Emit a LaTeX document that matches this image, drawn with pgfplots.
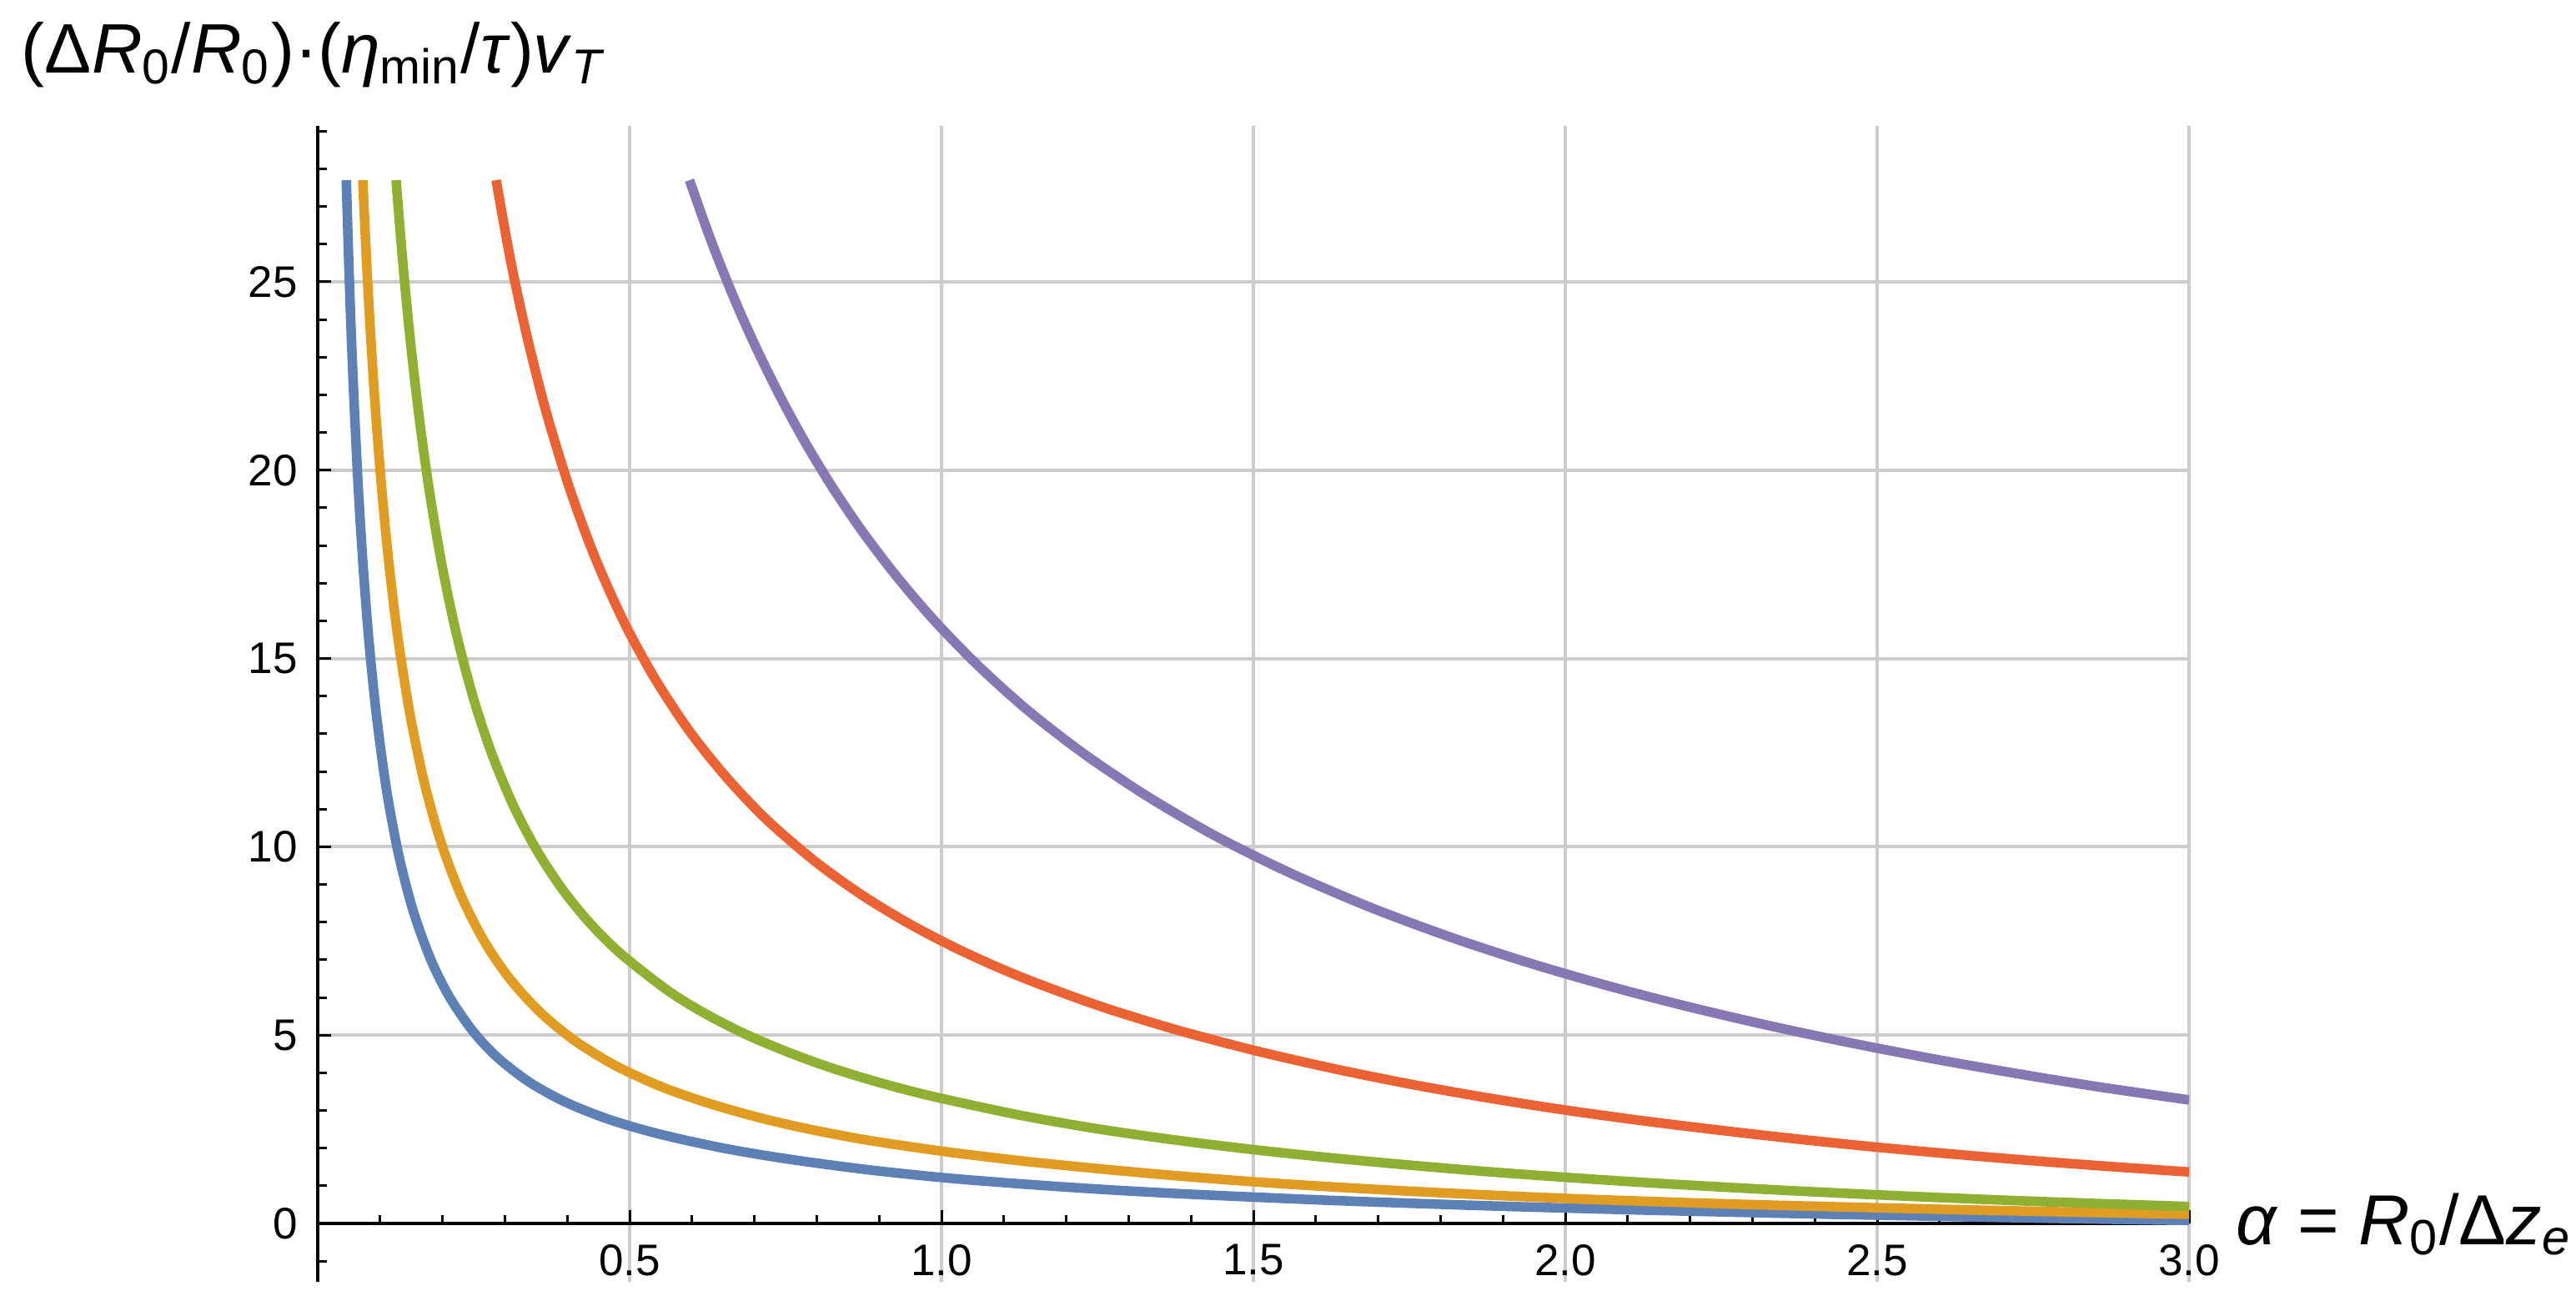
\documentclass[border=0pt]{standalone}
\usepackage{fontspec}
\setmainfont{Liberation Sans}
\usepackage{pgfplots}
\pgfplotsset{compat=1.18}
\definecolor{mblue}{HTML}{5E81B5}
\definecolor{morange}{HTML}{E19C24}
\definecolor{mgreen}{HTML}{8FB032}
\definecolor{mred}{HTML}{EB6235}
\definecolor{mpurple}{HTML}{8778B3}
\definecolor{mgrid}{HTML}{CCCCCC}
\begin{document}
\begin{tikzpicture}
\useasboundingbox (-76.2pt,-3.2pt) rectangle (541.6pt,307.4pt);
\begin{axis}[
  at={(0pt,0pt)}, anchor=south west,
  scale only axis, width=448.8pt, height=277.2pt,
  xmin=0, xmax=3, ymin=-1.55, ymax=29.14,
  axis x line=middle, axis y line=left,
  axis line style={-, line width=0.7pt, black},
  xtick={0.5,1,1.5,2,2.5,3}, xticklabels={0.5,1.0,1.5,2.0,2.5,3.0},
  ytick={0,5,10,15,20,25}, yticklabels={0,5,10,15,20,25},
  minor xtick={0.1,0.2,0.3,0.4,0.6,0.7,0.8,0.9,1.1,1.2,1.3,1.4,1.6,1.7,1.8,1.9,2.1,2.2,2.3,2.4,2.6,2.7,2.8,2.9},
  minor ytick={-1,1,2,3,4,6,7,8,9,11,12,13,14,16,17,18,19,21,22,23,24,26,27,28,29},
  hide obscured x ticks=false, hide obscured y ticks=false,
  tick align=inside,
  major tick length=3.2pt, minor tick length=2.1pt,
  every tick/.style={black, line width=0.6pt},
  grid=major, major grid style={mgrid, line width=0.8pt},
  /pgf/number format/assume math mode=true,
  xticklabel style={font=\fontsize{10.6}{12}\selectfont, yshift=-1.5pt},
  yticklabel style={font=\fontsize{10.6}{12}\selectfont, xshift=-1.3pt},
  every axis plot/.append style={line width=2.3pt, smooth, no markers, line join=round},
]
\addplot[mblue] coordinates {
(0.0458,27.7) (0.0498,25.5) (0.054,23.5) (0.0591,21.5) (0.0651,19.5) (0.0726,17.5)
(0.0819,15.5) (0.0941,13.5) (0.1104,11.5) (0.1296,9.8) (0.153,8.3) (0.1814,7.0)
(0.2117,6.0) (0.249,5.1) (0.2886,4.4) (0.34,3.744) (0.40,3.2) (0.47,2.745)
(0.55,2.364) (0.65,2.0) (0.75,1.72) (0.875,1.44) (1.0,1.22) (1.125,1.053)
(1.25,0.912) (1.375,0.796) (1.5,0.70) (1.625,0.612) (1.75,0.537) (1.875,0.469)
(2.0,0.41) (2.125,0.355) (2.25,0.307) (2.375,0.261) (2.5,0.22) (2.625,0.181)
(2.75,0.145) (2.875,0.111) (3.0,0.08)};
\addplot[morange] coordinates {
(0.0722,27.7) (0.0784,25.5) (0.0851,23.5) (0.093,21.5) (0.1026,19.5) (0.1143,17.5)
(0.129,15.5) (0.1481,13.5) (0.1709,11.7) (0.198,10.1) (0.2299,8.7) (0.2667,7.5)
(0.3077,6.5) (0.3571,5.6) (0.4124,4.85) (0.4762,4.2) (0.55,3.636) (0.625,3.2)
(0.70,2.843) (0.775,2.548) (0.875,2.229) (1.0,1.92) (1.125,1.667) (1.25,1.456)
(1.375,1.269) (1.5,1.107) (1.625,0.972) (1.75,0.857) (1.875,0.755) (2.0,0.665)
(2.125,0.591) (2.25,0.524) (2.375,0.467) (2.5,0.416) (2.625,0.368) (2.75,0.324)
(2.875,0.282) (3.0,0.243)};
\addplot[mgreen] coordinates {
(0.1256,27.7) (0.1365,25.5) (0.1481,23.5) (0.1619,21.5) (0.1785,19.5) (0.1989,17.5)
(0.2217,15.7) (0.2486,14.0) (0.2784,12.5) (0.3135,11.1) (0.3515,9.9) (0.3932,8.85)
(0.4377,7.95) (0.4867,7.15) (0.5625,6.169) (0.625,5.536) (0.6875,5.011) (0.75,4.573)
(0.8125,4.191) (0.875,3.863) (0.9375,3.573) (1.0,3.32) (1.125,2.876) (1.25,2.512)
(1.375,2.215) (1.5,1.96) (1.625,1.742) (1.75,1.549) (1.875,1.376) (2.0,1.225)
(2.125,1.089) (2.25,0.969) (2.375,0.859) (2.5,0.76) (2.625,0.670) (2.75,0.589)
(2.875,0.517) (3.0,0.45)};
\addplot[mred] coordinates {
(0.286,27.7) (0.31,25.5) (0.3362,23.5) (0.367,21.5) (0.4041,19.5) (0.4441,17.7)
(0.49,16.0) (0.5393,14.5) (0.5947,13.1) (0.6549,11.85) (0.721,10.7) (0.8,9.578)
(0.875,8.691) (0.95,7.941) (1.03,7.255) (1.125,6.56) (1.25,5.792) (1.375,5.149)
(1.5,4.6) (1.625,4.123) (1.75,3.703) (1.875,3.336) (2.0,3.01) (2.125,2.725)
(2.25,2.471) (2.375,2.236) (2.5,2.024) (2.625,1.836) (2.75,1.665) (2.875,1.51)
(3.0,1.367)};
\addplot[mpurple] coordinates {
(0.596,27.7) (0.63,26.12) (0.665,24.66) (0.70,23.35) (0.74,22.0) (0.78,20.78)
(0.825,19.55) (0.875,18.33) (0.93,17.14) (0.99,15.98) (1.06,14.79) (1.14,13.60)
(1.23,12.45) (1.33,11.34) (1.44,10.28) (1.56,9.297) (1.69,8.376) (1.82,7.578)
(1.95,6.877) (2.08,6.257) (2.21,5.703) (2.34,5.204) (2.47,4.752) (2.60,4.340)
(2.73,3.962) (2.86,3.614) (3.0,3.28)};
\end{axis}
\node[anchor=base west, inner sep=0pt, font=\fontsize{16.8}{20}\selectfont] at (-71.2pt,289.8pt)
  {(Δ\textit{R}\textsubscript{0}/\textit{R}\textsubscript{0})·(\textit{η}\textsubscript{min}/\textit{τ})\textit{v}\textsubscript{\textit{T}}};
\node[anchor=base west, inner sep=0pt, font=\fontsize{17}{20}\selectfont] at (459.8pt,9pt)
  {\textit{α} = \textit{R}\textsubscript{0}/Δ\textit{z}\textsubscript{\textit{e}}};
\end{tikzpicture}
\end{document}
